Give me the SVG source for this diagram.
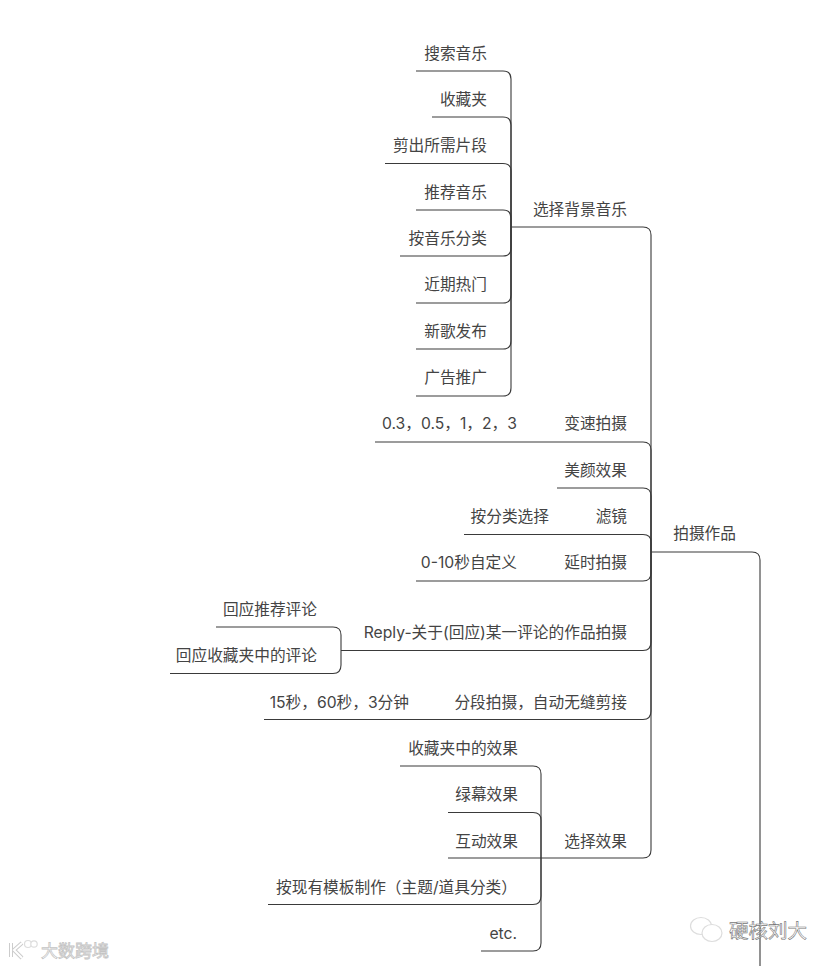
<svg xmlns="http://www.w3.org/2000/svg" width="834" height="966" viewBox="0 0 834 966">
<style>
text{font-family:"Inter","Noto Sans CJK SC",sans-serif;font-size:15.7px;fill:#444;text-anchor:end}
.l{fill:none;stroke:#3a3a3a;stroke-width:1.1}
.wm{font-family:"Noto Sans CJK SC",sans-serif;fill:#fff;stroke:#c4c4c4;stroke-width:.8;text-anchor:start}
.wi{fill:#fff;stroke:#ddd;stroke-width:1.2}
</style>
<rect width="834" height="966" fill="#fff"/>
<g id="connectors">
<path class="l" d="M416 71H503Q511 71 511 79V388Q511 396 503 396H416"/>
<path class="l" d="M432 117H503Q511 117 511 125V227"/>
<path class="l" d="M385 163.500H503Q511 163.500 511 171V227"/>
<path class="l" d="M416 210H503Q511 210 511 218V227"/>
<path class="l" d="M400 256H503Q511 256 511 248V227"/>
<path class="l" d="M416 303H503Q511 303 511 295V227"/>
<path class="l" d="M416 349H503Q511 349 511 341V227"/>
<path class="l" d="M511 227H643Q651 227 651 235V850Q651 858 643 858H448"/>
<path class="l" d="M375 442H643Q651 442 651 450V552"/>
<path class="l" d="M557 488H643Q651 488 651 496V552"/>
<path class="l" d="M464 534.500H643Q651 534.500 651 542V552"/>
<path class="l" d="M416 581H643Q651 581 651 573V552"/>
<path class="l" d="M341 650.500H643Q651 650.500 651 642V552"/>
<path class="l" d="M264 719.500H643Q651 719.500 651 711V552"/>
<path class="l" d="M651 552H752Q760 552 760 560V966"/>
<path class="l" d="M216 627H333Q341 627 341 635V665Q341 673.500 333 673.500H170"/>
<path class="l" d="M400 766H533Q541 766 541 774V943Q541 951 533 951H481"/>
<path class="l" d="M448 812.500H533Q541 812.500 541 820V858"/>
<path class="l" d="M268 904.500H533Q541 904.500 541 896V858"/>
</g>
<g id="n1"><text x="487" y="59">搜索音乐</text></g>
<g id="n2"><text x="487" y="105">收藏夹</text></g>
<g id="n3"><text x="487" y="151">剪出所需片段</text></g>
<g id="n4"><text x="487" y="198">推荐音乐</text></g>
<g id="n5"><text x="487" y="244">按音乐分类</text></g>
<g id="n6"><text x="487" y="290">近期热门</text></g>
<g id="n7"><text x="487" y="337">新歌发布</text></g>
<g id="n8"><text x="487" y="383">广告推广</text></g>
<g id="n9"><text x="627" y="215">选择背景音乐</text></g>
<g id="n10"><text x="627" y="429">变速拍摄</text></g>
<g id="n11"><text x="517" y="429">0.3，0.5，1，2，3</text></g>
<g id="n12"><text x="627" y="476">美颜效果</text></g>
<g id="n13"><text x="627" y="522">滤镜</text></g>
<g id="n14"><text x="549" y="522">按分类选择</text></g>
<g id="n15"><text x="627" y="568">延时拍摄</text></g>
<g id="n16"><text x="517" y="568">0-10秒自定义</text></g>
<g id="n17"><text x="627" y="638">Reply-关于(回应)某一评论的作品拍摄</text></g>
<g id="n18"><text x="317" y="615">回应推荐评论</text></g>
<g id="n19"><text x="317" y="661">回应收藏夹中的评论</text></g>
<g id="n20"><text x="627" y="708">分段拍摄，自动无缝剪接</text></g>
<g id="n21"><text x="409" y="708">15秒，60秒，3分钟</text></g>
<g id="n22"><text x="627" y="847">选择效果</text></g>
<g id="n23"><text x="518" y="754">收藏夹中的效果</text></g>
<g id="n24"><text x="518" y="800">绿幕效果</text></g>
<g id="n25"><text x="518" y="847">互动效果</text></g>
<g id="n26"><text x="517" y="893">按现有模板制作（主题/道具分类）</text></g>
<g id="n27"><text x="517" y="939">etc.</text></g>
<g id="n28"><text x="736" y="539">拍摄作品</text></g>
<g id="wm1">
<path d="M11 943V957M22 943L14 950L22 958" fill="none" stroke="#ccc" stroke-width="4"/>
<path d="M11 943V957M22 943L14 950L22 958" fill="none" stroke="#fff" stroke-width="2"/>
<circle class="wi" cx="28" cy="944" r="3.5"/><circle class="wi" cx="34" cy="944" r="3.2"/>
<text class="wm" x="41" y="957" style="font-size:17px">大数跨境</text>
</g>
<g id="wm2">
<ellipse class="wi" cx="701" cy="926" rx="10.500" ry="8.500"/>
<ellipse class="wi" cx="712" cy="933" rx="10" ry="8.500"/>
<text class="wm" x="729" y="938" style="font-size:19.500px;fill-opacity:.6;stroke:#777;stroke-width:.6">硬核刘大</text>
</g>
</svg>
